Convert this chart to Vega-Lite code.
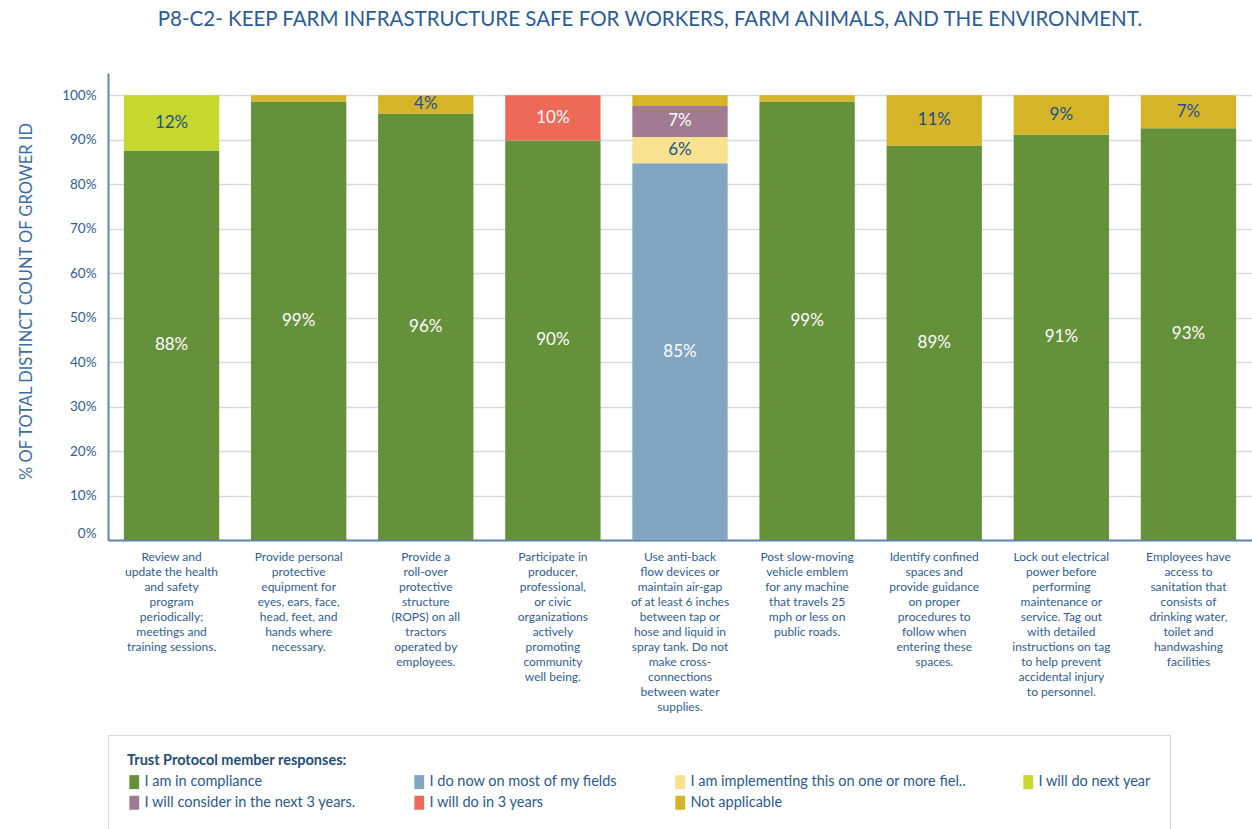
{
  "$schema": "https://vega.github.io/schema/vega-lite/v6.json",
  "width": 1144,
  "height": 467,
  "autosize": {"type": "none"},
  "padding": {"left": 108, "top": 73, "right": 0, "bottom": 289},
  "background": "white",
  "title": {
    "text": "P8-C2- KEEP FARM INFRASTRUCTURE SAFE FOR WORKERS, FARM ANIMALS, AND THE ENVIRONMENT.",
    "font": "Lato", "fontSize": 20.5, "fontWeight": "normal", "color": "#2b5c97",
    "anchor": "middle", "frame": "group", "offset": 43, "dx": -30
  },
  "config": {"view": {"stroke": null}, "font": "Lato"},
  "data": {"values": [
    {"task": "Review and|update the health|and safety|program|periodically;|meetings and|training sessions.", "response": "I am in compliance", "value": 0.876},
    {"task": "Review and|update the health|and safety|program|periodically;|meetings and|training sessions.", "response": "I will do next year", "value": 0.124},
    {"task": "Provide personal|protective|equipment for|eyes, ears, face,|head, feet, and|hands where|necessary.", "response": "I am in compliance", "value": 0.986},
    {"task": "Provide personal|protective|equipment for|eyes, ears, face,|head, feet, and|hands where|necessary.", "response": "Not applicable", "value": 0.014},
    {"task": "Provide a|roll-over|protective|structure|(ROPS) on all|tractors|operated by|employees.", "response": "I am in compliance", "value": 0.959},
    {"task": "Provide a|roll-over|protective|structure|(ROPS) on all|tractors|operated by|employees.", "response": "Not applicable", "value": 0.041},
    {"task": "Participate in|producer,|professional,|or civic|organizations|actively|promoting|community|well being.", "response": "I am in compliance", "value": 0.898},
    {"task": "Participate in|producer,|professional,|or civic|organizations|actively|promoting|community|well being.", "response": "I will do in 3 years", "value": 0.102},
    {"task": "Use anti-back|flow devices or|maintain air-gap|of at least 6 inches|between tap or|hose and liquid in|spray tank. Do not|make cross-|connections|between water|supplies.", "response": "I do now on most of my fields", "value": 0.847},
    {"task": "Use anti-back|flow devices or|maintain air-gap|of at least 6 inches|between tap or|hose and liquid in|spray tank. Do not|make cross-|connections|between water|supplies.", "response": "I am implementing this on one or more fiel..", "value": 0.059},
    {"task": "Use anti-back|flow devices or|maintain air-gap|of at least 6 inches|between tap or|hose and liquid in|spray tank. Do not|make cross-|connections|between water|supplies.", "response": "I will consider in the next 3 years.", "value": 0.07},
    {"task": "Use anti-back|flow devices or|maintain air-gap|of at least 6 inches|between tap or|hose and liquid in|spray tank. Do not|make cross-|connections|between water|supplies.", "response": "Not applicable", "value": 0.024},
    {"task": "Post slow-moving|vehicle emblem|for any machine|that travels 25|mph or less on|public roads.", "response": "I am in compliance", "value": 0.986},
    {"task": "Post slow-moving|vehicle emblem|for any machine|that travels 25|mph or less on|public roads.", "response": "Not applicable", "value": 0.014},
    {"task": "Identify confined|spaces and|provide guidance|on proper|procedures to|follow when|entering these|spaces.", "response": "I am in compliance", "value": 0.887},
    {"task": "Identify confined|spaces and|provide guidance|on proper|procedures to|follow when|entering these|spaces.", "response": "Not applicable", "value": 0.113},
    {"task": "Lock out electrical|power before|performing|maintenance or|service. Tag out|with detailed|instructions on tag|to help prevent|accidental injury|to personnel.", "response": "I am in compliance", "value": 0.912},
    {"task": "Lock out electrical|power before|performing|maintenance or|service. Tag out|with detailed|instructions on tag|to help prevent|accidental injury|to personnel.", "response": "Not applicable", "value": 0.088},
    {"task": "Employees have|access to|sanitation that|consists of|drinking water,|toilet and|handwashing|facilities", "response": "I am in compliance", "value": 0.926},
    {"task": "Employees have|access to|sanitation that|consists of|drinking water,|toilet and|handwashing|facilities", "response": "Not applicable", "value": 0.074}
  ]},
  "transform": [
    {"calculate": "indexof(['I am in compliance','I do now on most of my fields','I am implementing this on one or more fiel..','I will do next year','I will consider in the next 3 years.','I will do in 3 years','Not applicable'], datum.response)", "as": "rank"},
    {"stack": "value", "groupby": ["task"], "sort": [{"field": "rank", "order": "ascending"}], "as": ["y0", "y1"]},
    {"calculate": "(datum.y0 + datum.y1) / 2", "as": "mid"}
  ],
  "encoding": {
    "x": {
      "field": "task", "type": "nominal", "sort": null,
      "scale": {"paddingInner": 0.25, "paddingOuter": 0.125},
      "axis": {
        "title": null, "labelExpr": "split(datum.value, '|')", "labelAngle": 0,
        "labelFont": "Lato", "labelFontSize": 12, "labelLineHeight": 15, "labelColor": "#2f5d92",
        "labelPadding": 11, "labelBaseline": "top", "labelLimit": 0, "ticks": false,
        "domainColor": "#5a86b4", "domainWidth": 2
      }
    }
  },
  "layer": [
    {
      "mark": {"type": "bar"},
      "encoding": {
        "y": {
          "field": "y0", "type": "quantitative",
          "scale": {"domain": [0, 1.05], "nice": false, "zero": true},
          "axis": {
            "title": "% OF TOTAL DISTINCT COUNT OF GROWER ID",
            "values": [0, 0.1, 0.2, 0.3, 0.4, 0.5, 0.6, 0.7, 0.8, 0.9, 1],
            "format": ".0%", "titleFont": "Lato", "titleFontSize": 16.5, "titleFontWeight": "normal",
            "titleColor": "#3b6ca5", "titlePadding": 27, "titleY": 228,
            "labelFont": "Lato", "labelFontSize": 13.5, "labelColor": "#2f5d92", "labelPadding": 12,
            "labelFlush": true, "ticks": false,
            "domainColor": "#5a86b4", "domainWidth": 2,
            "gridColor": "#d3dbe3", "gridWidth": 1.5
          }
        },
        "y2": {"field": "y1"},
        "color": {
          "field": "response", "type": "nominal",
          "scale": {
            "domain": ["I am in compliance", "I do now on most of my fields", "I am implementing this on one or more fiel..", "I will do next year", "I will consider in the next 3 years.", "I will do in 3 years", "Not applicable"],
            "range": ["#66913b", "#82a6c1", "#f8e18f", "#c6d72d", "#a07b91", "#ee6a58", "#d6b428"]
          },
          "legend": {
            "title": "Trust Protocol member responses:", "orient": "none", "legendX": 0, "legendY": 662,
            "direction": "horizontal", "columns": 4, "gridAlign": "each", "columnPadding": 55, "rowPadding": 5,
            "padding": 19, "strokeColor": "#d0d9e2",
            "titleFont": "Lato", "titleFontSize": 14.5, "titleFontWeight": "bold", "titleColor": "#1f4e79", "titlePadding": 6, "titleLimit": 500,
            "labelFont": "Lato", "labelFontSize": 14.5, "labelColor": "#2a5a8f", "labelLimit": 400, "labelOffset": 3,
            "symbolType": "M-0.7,-1L0.7,-1L0.7,1L-0.7,1Z", "symbolSize": 196, "symbolStrokeWidth": 0
          }
        }
      }
    },
    {
      "transform": [{"filter": "datum.value >= 0.035"}],
      "mark": {"type": "text", "font": "Lato", "fontSize": 17, "baseline": "middle"},
      "encoding": {
        "y": {"field": "mid", "type": "quantitative", "title": "% OF TOTAL DISTINCT COUNT OF GROWER ID", "scale": {"domain": [0, 1.05], "nice": false}},
        "text": {"field": "value", "type": "quantitative", "format": ".0%"},
        "color": {
          "condition": {"test": "datum.response === 'I will do next year' || datum.response === 'I am implementing this on one or more fiel..' || datum.response === 'Not applicable'", "value": "#21508c"},
          "value": "white"
        }
      }
    }
  ]
}
